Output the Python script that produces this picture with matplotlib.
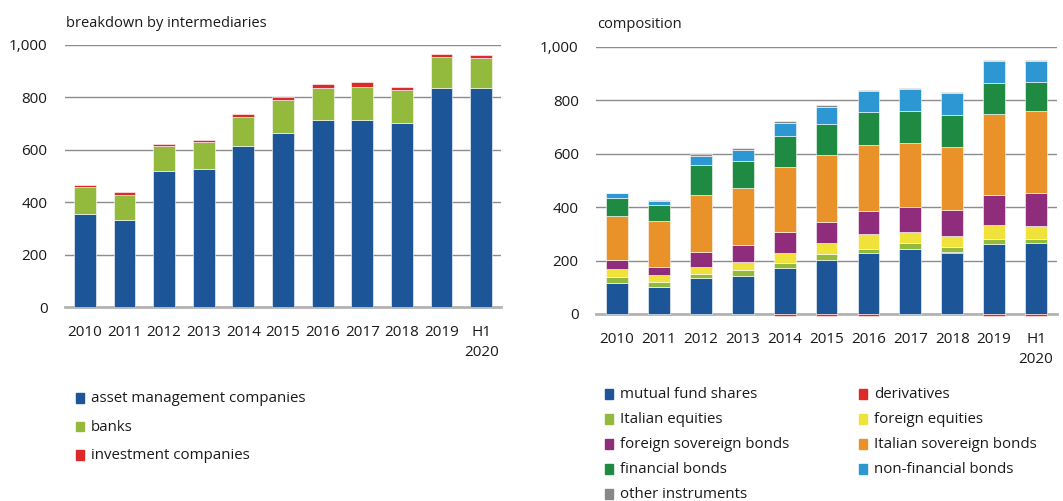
import matplotlib.pyplot as plt
import numpy as np

plt.rcParams['font.family'] = ['Open Sans', 'DejaVu Sans']

years = ['2010', '2011', '2012', '2013', '2014', '2015', '2016',
         '2017', '2018', '2019', 'H1\n2020']

# left panel: breakdown by intermediaries
asset_mgmt = [354, 332, 520, 527, 615, 666, 713, 713, 703, 836, 836]
banks = [103, 95, 93, 102, 111, 125, 124, 126, 125, 118, 114]
investment_cos = [8, 11, 11, 9, 9, 10, 15, 18, 10, 13, 13]

# right panel: composition
mutual_fund = [116, 101, 135, 143, 171, 204, 229, 242, 229, 263, 267]
derivatives = [1, 0, 0, 0, -7, -6, -6, 3, 2, -6, -6]
it_equities = [22, 20, 15, 23, 19, 21, 15, 20, 18, 19, 15]
for_equities = [28, 25, 25, 30, 39, 42, 56, 43, 43, 51, 46]
for_sovereign = [34, 30, 58, 63, 79, 78, 87, 91, 98, 113, 125]
it_sovereign = [167, 174, 213, 212, 241, 251, 245, 242, 235, 302, 308]
fin_bonds = [65, 59, 111, 103, 116, 117, 124, 119, 122, 116, 108]
nonfin_bonds = [19, 14, 36, 42, 52, 64, 78, 84, 79, 82, 77]
other_instr = [2, 4, 8, 4, 6, 4, 5, 3, 5, 5, 5]

BLUE = '#1c5699'
LGREEN = '#93ba3c'
RED = '#dc2a2a'
YELLOW = '#f0e23a'
PURPLE = '#8f2d7c'
ORANGE = '#ea922a'
GREEN = '#1e8a42'
LBLUE = '#2c97d3'
GREY = '#87888a'

TXT = '#1a1a1a'


def style_axis(ax, title):
    ax.set_ylim(0, 1000)
    ax.set_xlim(-0.5, len(years) - 0.5)
    ax.set_yticks(range(0, 1001, 200))
    ax.set_yticklabels([f'{v:,}' for v in range(0, 1001, 200)])
    ax.set_xticks(range(len(years)))
    # every label gets two lines so the first lines stay level
    ax.set_xticklabels([y if '\n' in y else y + '\n ' for y in years],
                       linespacing=1.45)
    ax.tick_params(length=0, labelsize=11, colors=TXT)
    ax.tick_params(axis='y', pad=12.5)
    ax.tick_params(axis='x', pad=13)
    for s in ['top', 'right', 'left']:
        ax.spines[s].set_visible(False)
    ax.spines['bottom'].set_color('#b3b3b3')
    ax.spines['bottom'].set_linewidth(2)
    ax.grid(axis='y', color='#8c8c8c', linewidth=1)
    ax.set_axisbelow(True)
    ax.text(0.003, 1.055, title, transform=ax.transAxes, fontsize=10.5,
            color=TXT, ha='left', va='bottom')


def legend_item(cx, cy, col, lab):
    fig.patches.append(plt.Rectangle((cx, cy - 0.009), 0.0078, 0.018,
                                     color=col, transform=fig.transFigure))
    fig.text(cx + 0.0142, cy - 0.001, lab, fontsize=10.8, color=TXT,
             va='center', ha='left')


fig = plt.figure(figsize=(10.63, 5.01), dpi=100)

# left chart
ax1 = fig.add_axes([0.0611, 0.3872, 0.4102, 0.5230])
x = np.arange(len(years))
w = 0.55
bottom = np.zeros(len(years))
for vals, col in [(asset_mgmt, BLUE), (banks, LGREEN), (investment_cos, RED)]:
    ax1.bar(x, vals, w, bottom=bottom, color=col, edgecolor='white',
            linewidth=0.4, zorder=3)
    bottom += np.array(vals)
style_axis(ax1, 'breakdown by intermediaries')

labels1 = ['asset management companies', 'banks', 'investment companies']
for i, (lab, col) in enumerate(zip(labels1, [BLUE, LGREEN, RED])):
    legend_item(0.0715, (501 - 398 - i * 28.5) / 501, col, lab)

# right chart
ax2 = fig.add_axes([0.5607, 0.3733, 0.4337, 0.5329])
w = 0.52
pos = np.zeros(len(years))
neg = np.zeros(len(years))
series = [(mutual_fund, BLUE), (derivatives, RED), (it_equities, LGREEN),
          (for_equities, YELLOW), (for_sovereign, PURPLE),
          (it_sovereign, ORANGE), (fin_bonds, GREEN), (nonfin_bonds, LBLUE),
          (other_instr, GREY)]
for vals, col in series:
    v = np.array(vals, dtype=float)
    b = np.where(v >= 0, pos, neg)
    ax2.bar(x, v, w, bottom=b, color=col, edgecolor='white', linewidth=0.4,
            zorder=3, clip_on=False)
    pos += np.where(v >= 0, v, 0)
    neg += np.where(v < 0, v, 0)
style_axis(ax2, 'composition')

labels2 = ['mutual fund shares', 'derivatives', 'Italian equities',
           'foreign equities', 'foreign sovereign bonds',
           'Italian sovereign bonds', 'financial bonds', 'non-financial bonds',
           'other instruments']
cols2 = [BLUE, RED, LGREEN, YELLOW, PURPLE, ORANGE, GREEN, LBLUE, GREY]
for i, (lab, col) in enumerate(zip(labels2, cols2)):
    cx = 0.569 if i % 2 == 0 else 0.808
    cy = (501 - 394 - (i // 2) * 25) / 501
    legend_item(cx, cy, col, lab)

fig.savefig('out.png', dpi=100)
